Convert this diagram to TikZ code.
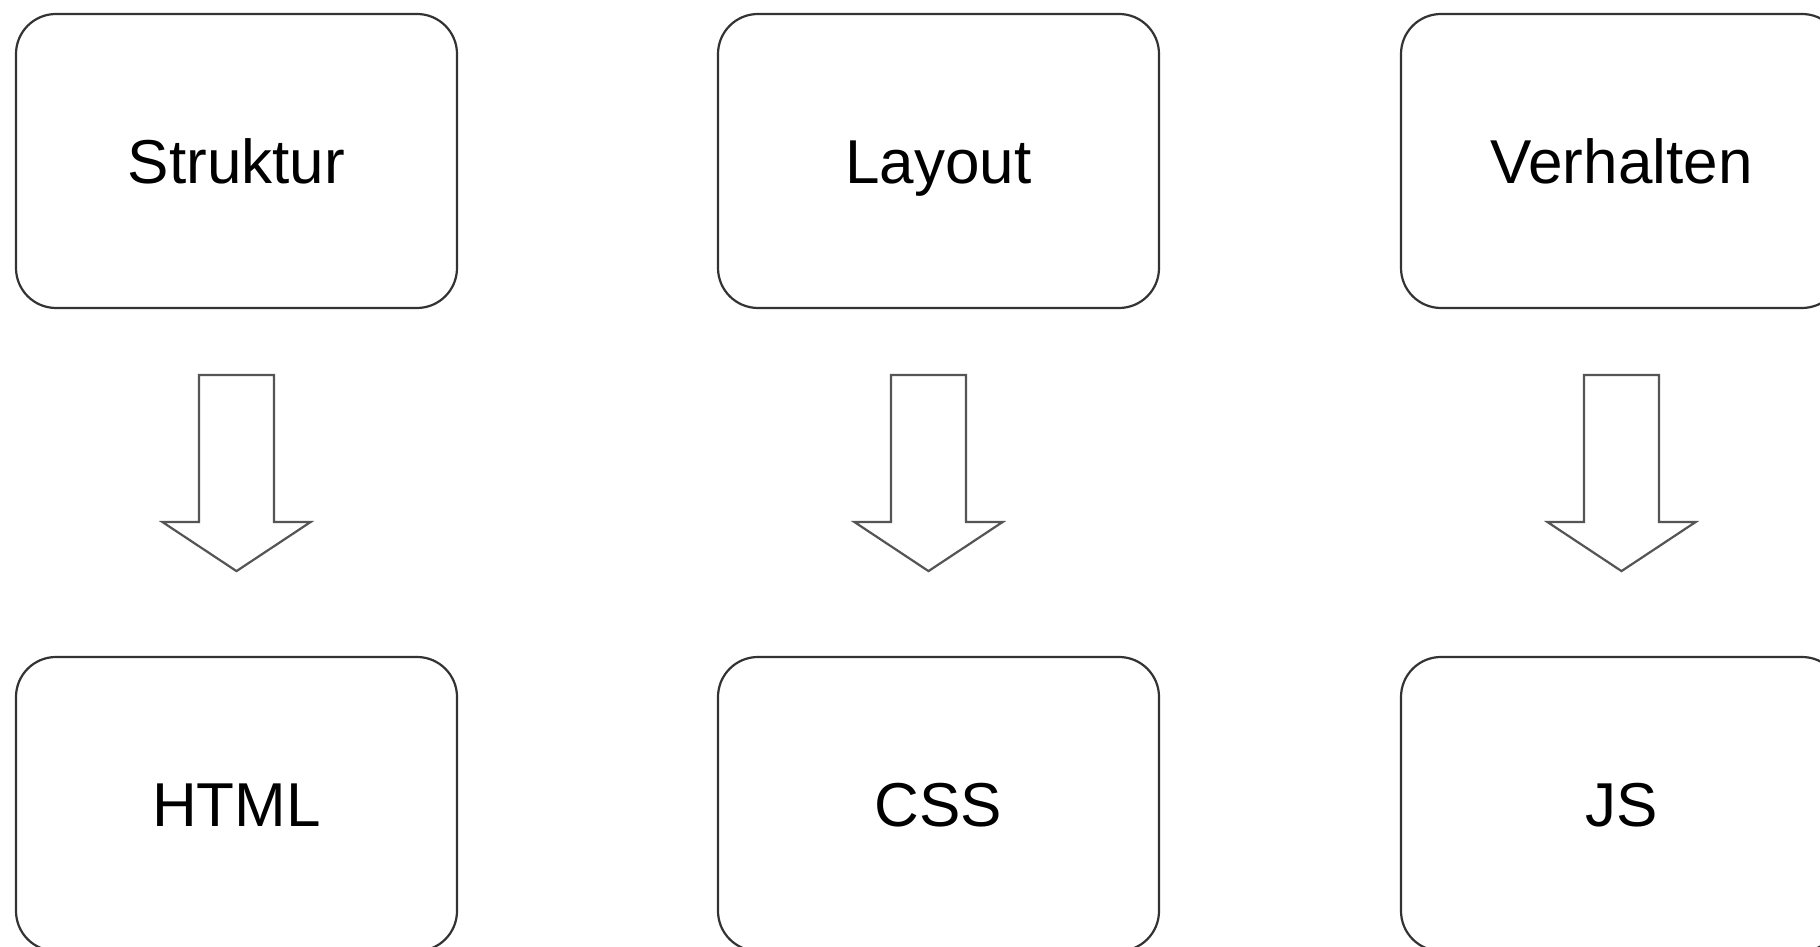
\documentclass[tikz,border=0pt]{standalone}
\usepackage{fontspec}
\setmainfont{Liberation Sans}
\usetikzlibrary{calc}
\definecolor{boxline}{HTML}{333333}
\definecolor{arrline}{HTML}{555555}
\begin{document}
\begin{tikzpicture}[x=1pt,y=1pt,
  card/.style={draw=boxline, line width=2.2pt, rounded corners=40pt, fill=white,
    minimum width=441pt, minimum height=294pt, inner sep=0pt,
    text height=45pt, text depth=0pt,
    font=\fontsize{62}{74}\selectfont, text=black},
  blockarrow/.style={draw=arrline, line width=2.2pt, fill=white, line join=miter}]
\useasboundingbox (0,0) rectangle (1820,947);
\clip (0,0) rectangle (1820,947);
\fill[white] (0,0) rectangle (1820,947);
\node[card] (s) at (236.5,786) {Struktur};
\node[card] (l) at (938.5,786) {Layout};
\node[card] (v) at (1621.5,786) {Verhalten};
\node[card] (h) at (236.5,143) {HTML};
\node[card] (c) at (938.5,143) {CSS};
\node[card] (j) at (1621.5,143) {JS};
\draw[blockarrow] ($(s.south)+(-37.5,-66)$) -- ++(0,-147) -- ++(-36.5,0) -- ++(74,-49) -- ++(74,49) -- ++(-36.5,0) -- ++(0,147) -- cycle;
\draw[blockarrow] ($(l.south)+(-47.5,-66)$) -- ++(0,-147) -- ++(-36.5,0) -- ++(74,-49) -- ++(74,49) -- ++(-36.5,0) -- ++(0,147) -- cycle;
\draw[blockarrow] ($(v.south)+(-37.5,-66)$) -- ++(0,-147) -- ++(-36.5,0) -- ++(74,-49) -- ++(74,49) -- ++(-36.5,0) -- ++(0,147) -- cycle;
\end{tikzpicture}
\end{document}
